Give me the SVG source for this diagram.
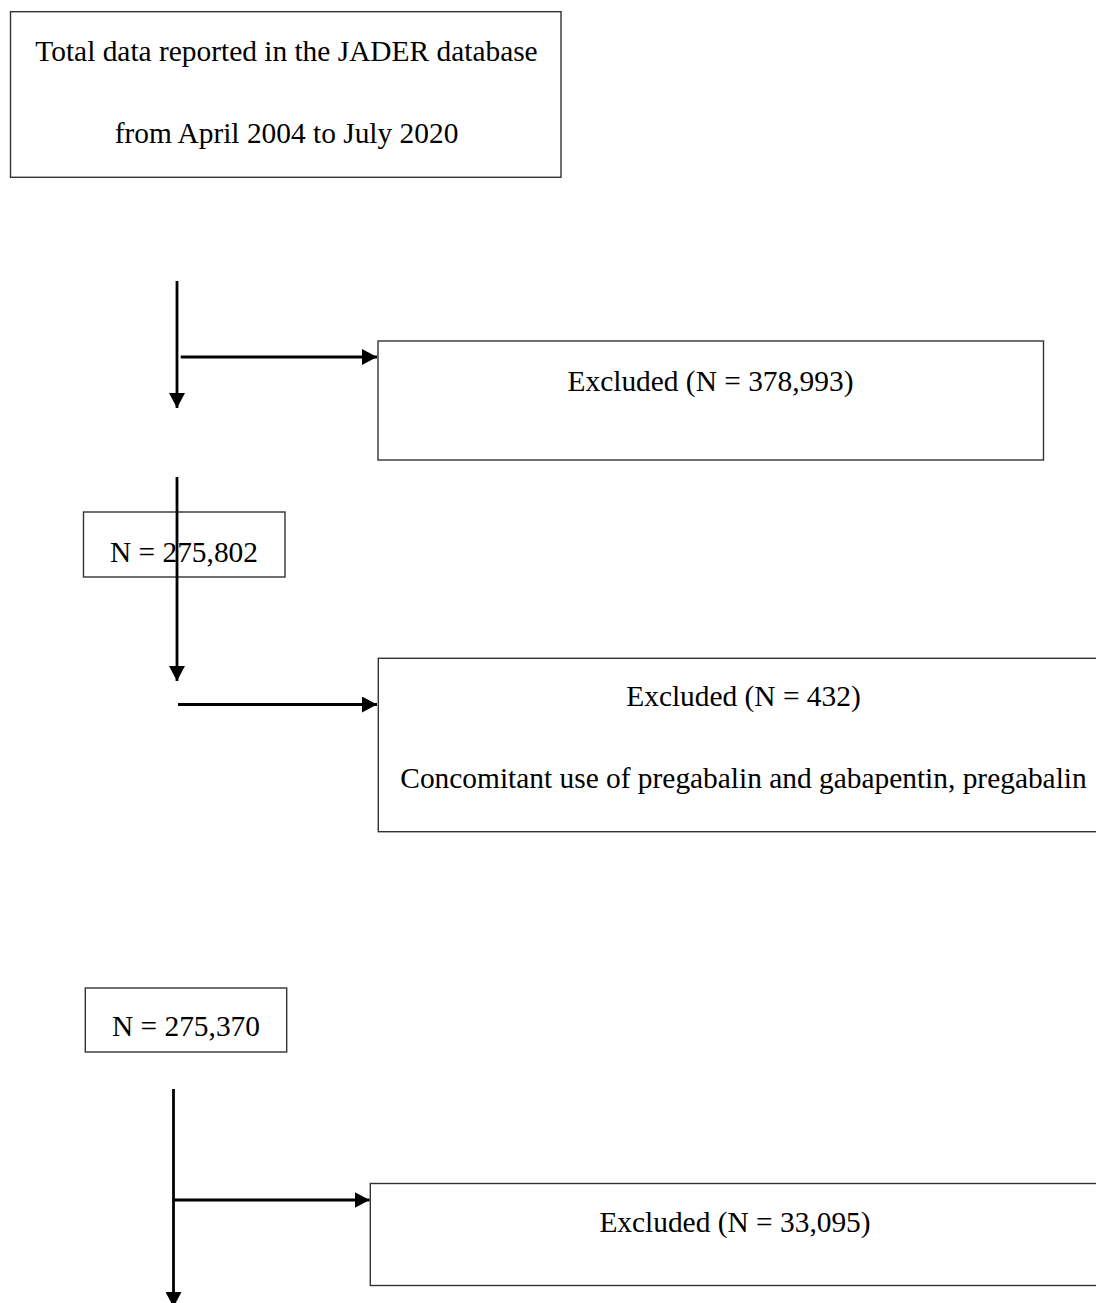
<svg xmlns="http://www.w3.org/2000/svg" width="1096" height="1303" viewBox="0 0 1096 1303">
<style>
.box{fill:#fff;stroke:#333;stroke-width:1.4}
.t{font-family:"Liberation Serif","Times New Roman",serif;font-size:29.4px;fill:#000;text-anchor:middle}
.c{stroke:#000;stroke-width:2.8;fill:none}
</style>
<defs>
<marker id="ah" viewBox="0 0 15 16" refX="15" refY="8" markerWidth="15" markerHeight="16" markerUnits="userSpaceOnUse" orient="auto">
<path d="M0,0 L15,8 L0,16 Z" fill="#000"/>
</marker>
</defs>
<rect width="1096" height="1303" fill="#fff"/>
<g id="total">
<rect class="box" x="10.5" y="11.7" width="550.5" height="165.6"/>
<text class="t" x="286.5" y="60.5">Total data reported in the JADER database</text>
<text class="t" x="286.5" y="143">from April 2004 to July 2020</text>
</g>
<g id="excluded1">
<rect class="box" x="378" y="341" width="665.5" height="119"/>
<text class="t" x="710.5" y="390.5">Excluded (N = 378,993)</text>
</g>
<g id="n275802">
<rect class="box" x="83.5" y="512" width="201.5" height="65"/>
<text class="t" x="184" y="562">N = 275,802</text>
</g>
<g id="excluded2">
<rect class="box" x="378.3" y="658.3" width="730" height="173.4"/>
<text class="t" x="743.5" y="706">Excluded (N = 432)</text>
<text class="t" x="743.5" y="787.5">Concomitant use of pregabalin and gabapentin, pregabalin</text>
</g>
<g id="n275370">
<rect class="box" x="85.3" y="988" width="201.4" height="64"/>
<text class="t" x="186" y="1036.3">N = 275,370</text>
</g>
<g id="excluded3">
<rect class="box" x="370.3" y="1183.5" width="730" height="102"/>
<text class="t" x="735" y="1232">Excluded (N = 33,095)</text>
</g>
<g id="connectors">
<line class="c" x1="177" y1="281" x2="177" y2="408" marker-end="url(#ah)"/>
<line class="c" x1="180.7" y1="357" x2="377" y2="357" marker-end="url(#ah)"/>
<line class="c" x1="177" y1="477" x2="177" y2="681" marker-end="url(#ah)"/>
<line class="c" x1="178" y1="704.5" x2="377" y2="704.5" marker-end="url(#ah)"/>
<line class="c" x1="173.5" y1="1089" x2="173.5" y2="1307" marker-end="url(#ah)"/>
<line class="c" x1="173.5" y1="1200" x2="369.5" y2="1200" marker-end="url(#ah)"/>
</g>
</svg>
